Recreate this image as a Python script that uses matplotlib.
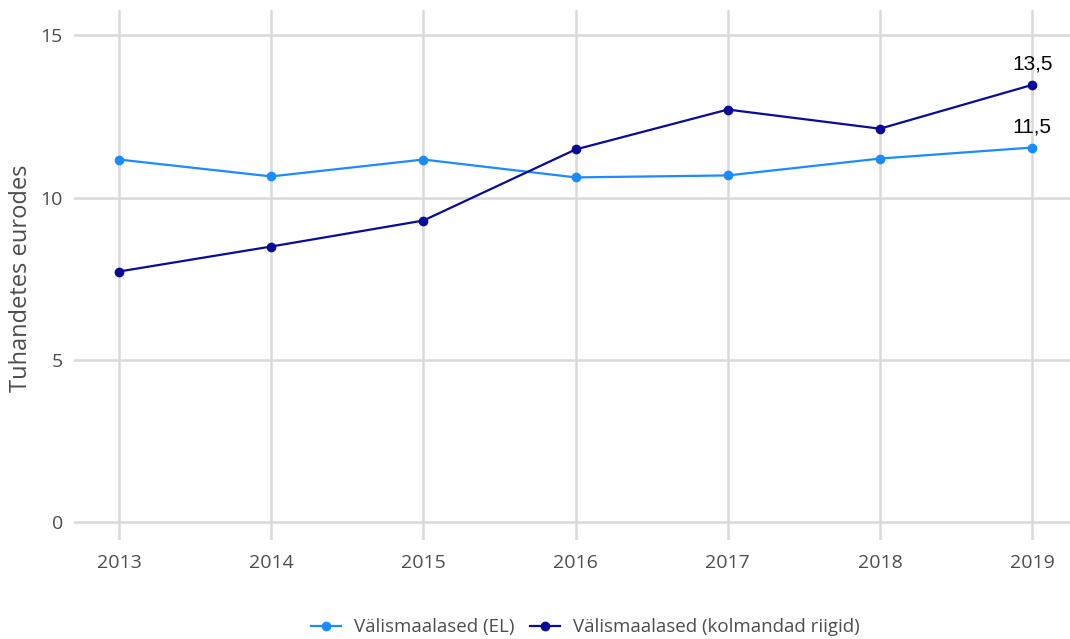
import numpy as np, matplotlib
matplotlib.use("Agg"); import matplotlib.pyplot as plt
plt.rcParams.update({"font.family": ["Open Sans", "DejaVu Sans"], "figure.dpi": 100})

years = [2013, 2014, 2015, 2016, 2017, 2018, 2019]
el = [11.17, 10.65, 11.17, 10.62, 10.68, 11.2, 11.54]
third = [7.72, 8.49, 9.29, 11.48, 12.71, 12.12, 13.47]
end_labels = ["11,5", "13,5"]
yticks = [0, 5, 10, 15]
C_EL = "#1a8cff"; C_3 = "#0b0b99"; GRID = "#d9d9d9"; TXT = "#4d4d4d"

fig = plt.figure(figsize=(10.7, 6.39))
ax = fig.add_axes([0.0692, 0.155, 0.931, 0.829])
ax.plot(years, el, color=C_EL, lw=1.6, marker="o", ms=6, label="Välismaalased (EL)")
ax.plot(years, third, color=C_3, lw=1.6, marker="o", ms=6, label="Välismaalased (kolmandad riigid)")
for s, lab in zip((el, third), end_labels):
    ax.text(years[-1], s[-1] + 0.35, lab, ha="center", va="bottom",
            fontsize=15, color="black", family="Liberation Sans")
ax.set_xlim(2012.705, 2019.25); ax.set_ylim(-0.55, 15.77)
ax.set_xticks(years); ax.set_yticks(yticks)
ax.grid(True, color=GRID, lw=1.8); ax.set_axisbelow(True)
for sp in ax.spines.values(): sp.set_visible(False)
ax.tick_params(length=0, labelsize=14, colors=TXT, pad=10)
ax.tick_params(axis="y", pad=8)
fig.text(21/1070, 0.565, "Tuhandetes eurodes", rotation=90, ha="center", va="center",
         fontsize=17, color=TXT)
fig.legend(loc="center", bbox_to_anchor=(0.547, 0.018), ncol=2, frameon=False, fontsize=13.5,
           labelcolor=TXT, handlelength=1.6, columnspacing=0.8, handletextpad=0.7)
fig.savefig("out.png", dpi=100, facecolor="white")
